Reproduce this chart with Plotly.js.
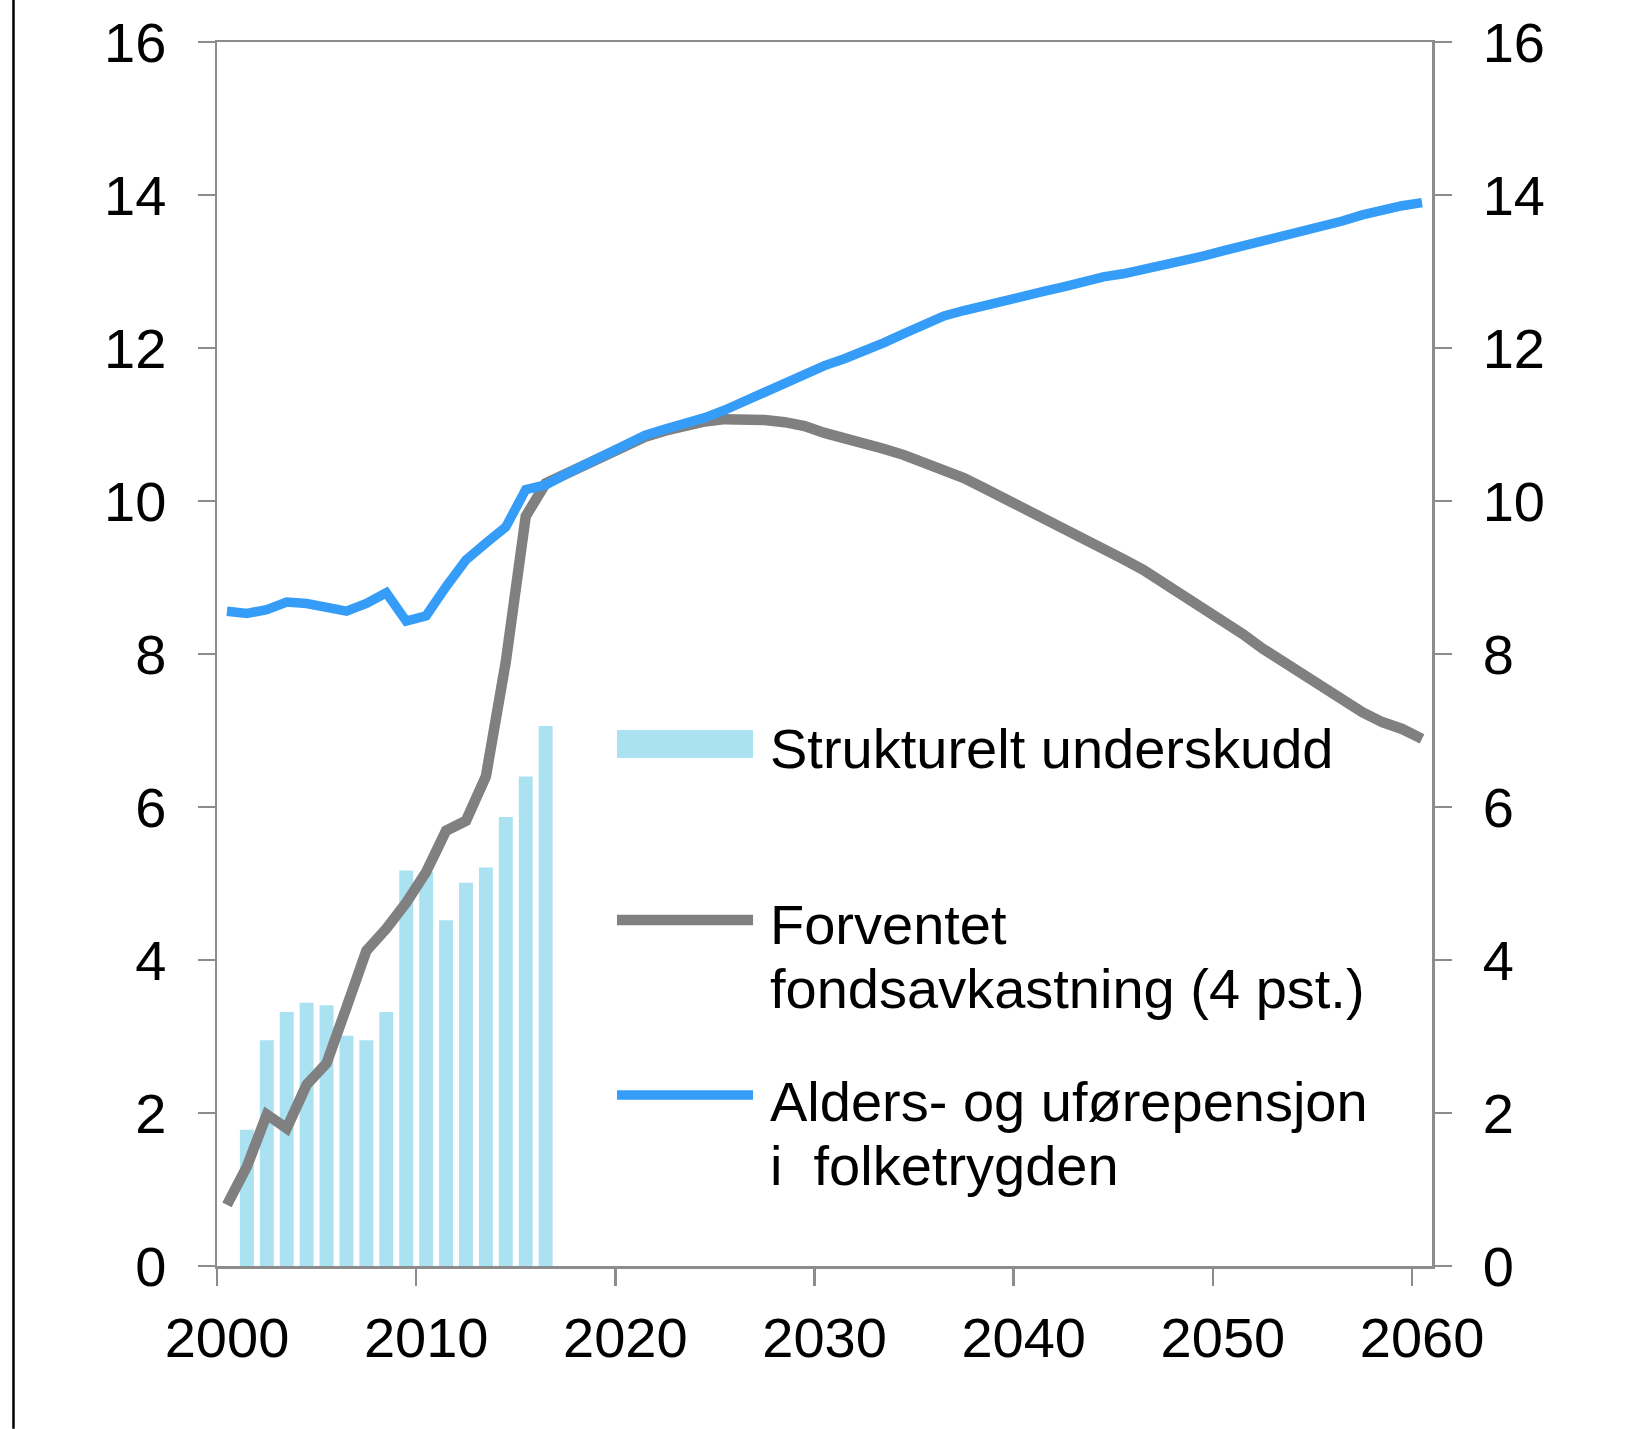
<!DOCTYPE html>
<html>
<head>
<meta charset="utf-8">
<script src="https://cdn.plot.ly/plotly-3.0.1.min.js"></script>
<style>
  html, body { margin: 0; padding: 0; background: #fff; }
  #chart { width: 1639px; height: 1429px; }
</style>
</head>
<body>
<div id="chart"></div>
<script>
// ---- Data ----
const years = [];
for (let y = 2000; y <= 2060; y++) years.push(y);

const barYears = [2001, 2002, 2003, 2004, 2005, 2006, 2007, 2008,
                  2009, 2010, 2011, 2012, 2013, 2014, 2015, 2016];
// Strukturelt underskudd
const deficit = [1.78, 2.95, 3.32, 3.44, 3.41, 3.01, 2.95, 3.32,
                 5.17, 5.15, 4.52, 5.01, 5.21, 5.87, 6.40, 7.06];

// Forventet fondsavkastning (4 pst.)
const fundReturn = [
  0.80, 1.30, 1.98, 1.80, 2.37, 2.65, 3.38, 4.12, 4.41, 4.75,
  5.15, 5.69, 5.82, 6.40, 7.90, 9.80, 10.23, 10.35, 10.47, 10.59,
  10.73, 10.84, 10.92, 10.99, 11.04, 11.07, 11.08, 11.06, 11.03, 10.98,
  10.89, 10.83, 10.76, 10.68, 10.60, 10.51, 10.42, 10.30, 10.17, 10.04,
  9.91, 9.79, 9.66, 9.53, 9.40, 9.24, 9.10, 8.94, 8.77, 8.61,
  8.44, 8.26, 8.07, 7.90, 7.73, 7.56, 7.39, 7.24, 7.11, 7.02,
  6.89
];

// Alders- og uførepensjon i folketrygden
const pension = [
  8.56, 8.53, 8.58, 8.68, 8.66, 8.60, 8.56, 8.66, 8.80, 8.43,
  8.50, 8.88, 9.23, 9.45, 9.66, 10.15, 10.21, 10.35, 10.48, 10.61,
  10.76, 10.86, 10.94, 11.01, 11.09, 11.19, 11.31, 11.44, 11.55, 11.66,
  11.77, 11.86, 11.95, 12.07, 12.19, 12.32, 12.42, 12.49, 12.56, 12.62,
  12.68, 12.74, 12.80, 12.87, 12.93, 12.97, 13.02, 13.08, 13.14, 13.20,
  13.27, 13.33, 13.41, 13.47, 13.53, 13.59, 13.66, 13.74, 13.81, 13.86,
  13.90
];

const xTickVals = [1999.5, 2009.5, 2019.5, 2029.5, 2039.5, 2049.5, 2059.5];
const xTickText = ["2000", "2010", "2020", "2030", "2040", "2050", "2060"];
const yTickVals = [0, 2, 4, 6, 8, 10, 12, 14, 16];

const seriesNames = ["Strukturelt underskudd", "Forventet fondsavkastning (4 pst.)", "Alders- og uførepensjon i folketrygden"];

// ---- Styles ----
const barColor = "#ABE2F2";
const greyColor = "#808080";
const blueColor = "#359DF7";
const axisColor = "#8C8C8C";
const fontFam = "Liberation Sans, Arial, Helvetica, sans-serif";
const fs = 56;

const traces = [
  {
    type: "bar", x: barYears, y: deficit, name: seriesNames[0],
    marker: { color: barColor, line: { width: 0 } }, width: 0.7,
    hoverinfo: "x+y"
  },
  {
    type: "scatter", mode: "lines", x: years, y: fundReturn, name: seriesNames[1],
    line: { color: greyColor, width: 10.5, shape: "linear" }
  },
  {
    type: "scatter", mode: "lines", x: years, y: pension, name: seriesNames[2],
    yaxis: "y2",
    line: { color: blueColor, width: 9.5, shape: "linear" }
  }
];

const axisCommon = {
  showgrid: false, zeroline: false,
  showline: true, linecolor: axisColor, linewidth: 2.5,
  ticks: "outside", ticklen: 17, tickwidth: 2.5, tickcolor: axisColor,
  tickfont: { family: fontFam, size: fs, color: "#000" }
};

// Legend geometry helpers (paper coords)
const legendTextX = 0.4535;
const swX0 = 0.3292, swX1 = 0.4412;

const layout = {
  width: 1639, height: 1429,
  margin: { l: 217, r: 207, t: 42, b: 163 },
  paper_bgcolor: "#fff", plot_bgcolor: "#fff",
  showlegend: false,
  bargap: 0.3,
  font: { family: fontFam, size: fs, color: "#000" },
  xaxis: Object.assign({}, axisCommon, {
    range: [1999.5, 2060.5], tickmode: "array",
    tickvals: xTickVals, ticktext: xTickText,
    mirror: true, ticklabelshift: 10, ticklabelstandoff: 4
  }),
  yaxis: Object.assign({}, axisCommon, {
    range: [0, 16], tickmode: "array", tickvals: yTickVals,
    ticklabelstandoff: 20
  }),
  yaxis2: Object.assign({}, axisCommon, {
    range: [0, 16], tickmode: "array", tickvals: yTickVals,
    overlaying: "y", side: "right", ticklabelstandoff: 20
  }),
  shapes: [
    // outer black border at left
    { type: "line", xref: "paper", yref: "paper",
      x0: -0.1675, x1: -0.1675, y0: -0.133, y1: 1.04,
      line: { color: "#000", width: 2.5 } },
    // legend swatches
    { type: "rect", xref: "paper", yref: "paper",
      x0: swX0, x1: swX1, y0: 0.4150, y1: 0.4379,
      fillcolor: barColor, line: { width: 0 } },
    { type: "line", xref: "paper", yref: "paper",
      x0: swX0, x1: swX1, y0: 0.2827, y1: 0.2827,
      line: { color: greyColor, width: 10.5 } },
    { type: "line", xref: "paper", yref: "paper",
      x0: swX0, x1: swX1, y0: 0.1397, y1: 0.1397,
      line: { color: blueColor, width: 9.5 } }
  ],
  annotations: [
    { text: "Strukturelt underskudd", y: 0.4224 },
    { text: "Forventet", y: 0.2786 },
    { text: "fondsavkastning (4 pst.)", y: 0.2271 },
    { text: "Alders- og uførepensjon", y: 0.1348 },
    { text: "i  folketrygden", y: 0.0825 }
  ].map(a => ({
    text: a.text, x: legendTextX, y: a.y, xref: "paper", yref: "paper",
    xanchor: "left", yanchor: "middle", showarrow: false,
    font: { family: fontFam, size: fs, color: "#000" }
  }))
};

Plotly.newPlot("chart", traces, layout, { displayModeBar: false, staticPlot: true });
</script>
</body>
</html>
